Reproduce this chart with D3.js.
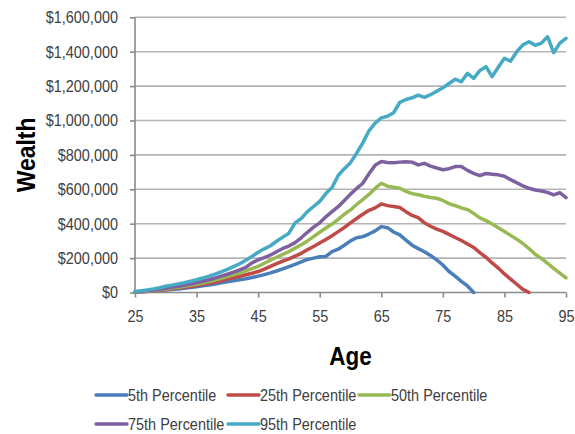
<!DOCTYPE html>
<html>
<head>
<meta charset="utf-8">
<script src="https://cdn.jsdelivr.net/npm/d3@7"></script>
<style>
  html, body { margin: 0; padding: 0; background: #ffffff; }
  svg { display: block; }
  text { font-family: "Liberation Sans", Arial, sans-serif; }
</style>
</head>
<body>
<svg id="chart" width="575" height="434"></svg>
<script>
// Ages on the horizontal axis (one point per year)
const ages = d3.range(25, 96);

// Projected wealth by percentile, in thousands of dollars
const p5 = [2,4,6,8,11,14,17,21,25,29,
  34,39,44,50,56,63,68,74,80,87,
  95,104,114,125,137,150,163,178,192,200,
  208,210,238,252,275,300,318,325,340,358,
  383,377,352,335,305,275,255,237,215,190,
  160,122,95,65,38,0];
const p25 = [2,4,7,10,13,17,21,26,30,35,
  40,46,53,60,68,78,86,94,103,112,
  122,136,152,168,183,196,212,228,248,268,
  288,308,330,354,378,405,430,455,478,492,
  515,505,500,494,470,448,435,405,385,368,
  355,338,320,302,282,262,232,205,172,142,
  108,78,48,18,0];
const p50 = [3,6,9,12,16,20,25,30,36,42,
  48,55,63,72,82,92,103,114,126,139,
  152,170,188,205,222,238,258,278,300,325,
  350,375,398,425,455,480,512,540,570,605,
  635,618,612,606,588,575,568,560,552,548,
  535,517,505,492,482,460,434,418,398,376,
  355,332,310,285,255,222,198,170,140,112,
  85];
const p75 = [4,7,11,15,19,24,30,36,42,49,
  57,65,74,84,95,106,118,131,146,172,
  190,203,218,237,256,270,290,318,350,380,
  405,440,470,499,535,572,605,635,690,740,
  762,756,754,758,760,758,742,751,735,724,
  714,720,732,733,710,693,680,692,688,684,
  676,656,638,620,606,596,590,582,567,580,
  552];
const p95 = [5,10,15,21,28,36,43,50,57,65,
  74,84,95,107,120,134,150,167,188,210,
  234,254,272,298,322,345,405,430,470,500,
  530,575,610,680,720,755,810,870,940,985,
  1015,1025,1045,1105,1122,1132,1148,1135,1150,1170,
  1190,1215,1240,1225,1274,1245,1290,1313,1255,1310,
  1362,1345,1400,1440,1458,1437,1450,1487,1394,1450,
  1478];

const seriesNames = ["5th Percentile", "25th Percentile", "50th Percentile", "75th Percentile", "95th Percentile"];
const seriesValues = [p5, p25, p50, p75, p95];
const seriesColors = ["#4a7ebb", "#be4b48", "#98b954", "#7d60a0", "#46aac5"];

const yTicks = [0, 200000, 400000, 600000, 800000, 1000000, 1200000, 1400000, 1600000];
const xTicks = [25, 35, 45, 55, 65, 75, 85, 95];

// Squeeze text horizontally to get a condensed typeface look
function condense(sel, factor) {
  sel.each(function () {
    const w = this.getComputedTextLength();
    this.setAttribute("textLength", (w * factor).toFixed(2));
    this.setAttribute("lengthAdjust", "spacingAndGlyphs");
  });
}

const svg = d3.select("#chart");

const x = d3.scaleLinear().domain([25, 95]).range([135, 566]);
const y = d3.scaleLinear().domain([0, 1600000]).range([292.5, 17.3]);

// Horizontal gridlines
svg.append("g")
  .selectAll("line")
  .data(yTicks.filter(d => d > 0))
  .join("line")
  .attr("x1", x(25)).attr("x2", x(95))
  .attr("y1", d => y(d)).attr("y2", d => y(d))
  .attr("stroke", "#b4b4b4")
  .attr("stroke-width", 1.6);

// Y axis
const yAxis = svg.append("g")
  .attr("transform", `translate(${x(25)},0)`)
  .call(d3.axisLeft(y).tickValues(yTicks).tickSize(5).tickPadding(12).tickFormat(d3.format("$,")));

// X axis
const xAxis = svg.append("g")
  .attr("transform", `translate(0,${y(0)})`)
  .call(d3.axisBottom(x).tickValues(xTicks).tickSize(5).tickPadding(12).tickFormat(d3.format("d")));

[yAxis, xAxis].forEach(g => {
  g.attr("font-family", null);
  g.select(".domain").attr("stroke", "#8a8a8a").attr("stroke-width", 1.6);
  g.selectAll(".tick line").attr("stroke", "#8a8a8a").attr("stroke-width", 1.6);
  g.selectAll(".tick text").attr("fill", "#404040").style("font-size", "17px");
  condense(g.selectAll(".tick text"), 0.85);
});
yAxis.select(".domain").attr("d", `M0,${y(0)}V${y(1600000)}`);
xAxis.select(".domain").attr("d", `M${x(25)},0H${x(95)}`);

// Percentile lines
const line = d3.line()
  .x((d, i) => x(ages[i]))
  .y(d => y(d * 1000));

svg.append("g")
  .selectAll("path")
  .data(seriesValues)
  .join("path")
  .attr("d", d => line(d))
  .attr("fill", "none")
  .attr("stroke", (d, i) => seriesColors[i])
  .attr("stroke-width", 3.5)
  .attr("stroke-linejoin", "round")
  .attr("stroke-linecap", "round");

// Axis titles
const ageTitle = svg.append("text")
  .attr("x", (x(25) + x(95)) / 2)
  .attr("y", 365)
  .attr("text-anchor", "middle")
  .style("font-weight", "bold")
  .style("font-size", "25.5px")
  .attr("fill", "#000")
  .text("Age");
condense(ageTitle, 0.88);

const wealthTitle = svg.append("text")
  .attr("transform", `translate(35,${(y(0) + y(1600000)) / 2}) rotate(-90)`)
  .attr("text-anchor", "middle")
  .style("font-weight", "bold")
  .style("font-size", "25.5px")
  .attr("fill", "#000")
  .text("Wealth");
condense(wealthTitle, 0.9);

// Legend
const legendPos = [[96, 395], [228, 395], [359, 395], [96, 424], [228, 424]];
const legend = svg.append("g").attr("class", "legend")
  .selectAll("g")
  .data(seriesNames)
  .join("g")
  .attr("transform", (d, i) => `translate(${legendPos[i][0]},${legendPos[i][1]})`);

legend.append("line")
  .attr("x1", 0).attr("x2", 31)
  .attr("y1", 0).attr("y2", 0)
  .attr("stroke", (d, i) => seriesColors[i])
  .attr("stroke-width", 3.5)
  .attr("stroke-linecap", "round");

const legendText = legend.append("text")
  .attr("x", 32)
  .attr("y", 0)
  .attr("dy", "0.36em")
  .attr("fill", "#404040")
  .style("font-size", "17px")
  .text(d => d);
condense(legendText, 0.85);
</script>
</body>
</html>
